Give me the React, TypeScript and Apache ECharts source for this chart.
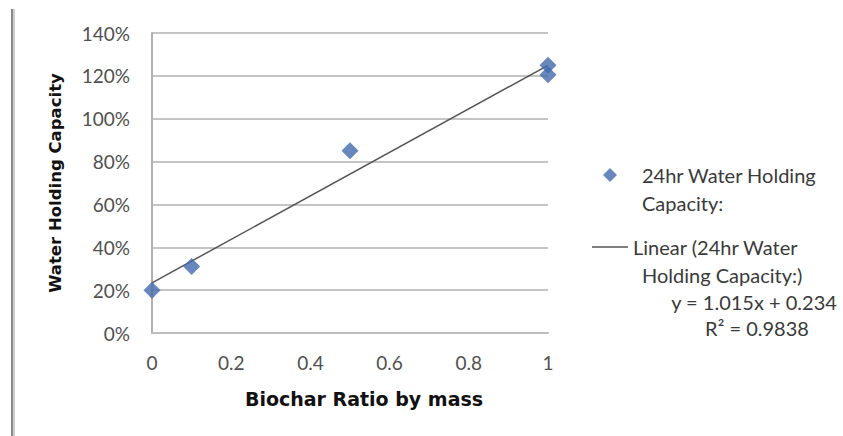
import React, { useEffect, useRef } from "react";
import * as echarts from "echarts";

// Data
const biocharRatio = [0, 0.1, 0.5, 1, 1];
const waterHolding = [0.2, 0.31, 0.85, 1.25, 1.205];
const trendX = [0, 1];
const trendY = [0.234, 1.249];

const seriesName = "24hr Water Holding Capacity:";
const trendName = "Linear (24hr Water Holding Capacity:)";
const equationText = "y = 1.015x + 0.234";
const rSquaredText = "R² = 0.9838";
const xTitle = "Biochar Ratio by mass";
const yTitle = "Water Holding Capacity";

const labelFont = "Lato, 'Open Sans', sans-serif";
const titleFont = "'DejaVu Sans', 'Liberation Sans', sans-serif";

export default function App() {
  const ref = useRef<HTMLDivElement>(null);
  useEffect(() => {
    if (!ref.current) return;
    const chart = echarts.init(ref.current, undefined, { renderer: "svg" });
    const scatterData = biocharRatio.map((x, i) => [x, waterHolding[i]]);
    const trendData = trendX.map((x, i) => [x, trendY[i]]);
    chart.setOption({
      animation: false,
      backgroundColor: "#ffffff",
      grid: { left: 152, top: 33, width: 396, height: 300, containLabel: false },
      xAxis: {
        type: "value",
        min: 0,
        max: 1,
        interval: 0.2,
        name: xTitle,
        nameLocation: "middle",
        nameGap: 56,
        nameTextStyle: {
          fontFamily: titleFont,
          fontWeight: "bold",
          fontSize: 19,
          color: "#111111",
          padding: [0, 0, 0, 28],
        },
        axisLine: { show: true, lineStyle: { color: "#bdbdbd", width: 2 } },
        axisTick: { show: false },
        splitLine: { show: false },
        axisLabel: {
          margin: 20,
          fontFamily: labelFont,
          fontSize: 19,
          color: "#505050",
          formatter: (v: number) => String(v),
        },
      },
      yAxis: {
        type: "value",
        min: 0,
        max: 1.4,
        interval: 0.2,
        name: yTitle,
        nameLocation: "middle",
        nameGap: 88,
        nameTextStyle: {
          fontFamily: titleFont,
          fontWeight: "bold",
          fontSize: 16.5,
          color: "#111111",
        },
        axisLine: { show: true, lineStyle: { color: "#b0b0b0", width: 2 } },
        axisTick: { show: false },
        splitLine: { show: true, lineStyle: { color: "#c4c4c4", width: 2 } },
        axisLabel: {
          margin: 22,
          fontFamily: labelFont,
          fontSize: 19,
          color: "#505050",
          formatter: (v: number) => Math.round(v * 100) + "%",
        },
      },
      legend: {
        orient: "vertical",
        left: 592,
        top: 161,
        padding: 0,
        itemWidth: 36,
        itemHeight: 14,
        itemGap: 44,
        selectedMode: false,
        symbolKeepAspect: true,
        textStyle: {
          fontFamily: labelFont,
          fontSize: 20,
          lineHeight: 28,
          color: "#3a3a3a",
        },
        formatter: (name: string) =>
          name === seriesName ? "24hr Water Holding" : "Linear (24hr Water",
        data: [
          {
            name: seriesName,
            icon: "path://M7,0 L14,7 L7,14 L0,7 Z",
            textStyle: { padding: [0, 0, 0, 9] },
          },
          {
            name: trendName,
            icon: "path://M0,0 L36,0 L36,1.5 L0,1.5 Z",
            itemStyle: { color: "#555555" },
          },
        ],
      },
      graphic: [
        { type: "rect", left: 11, top: 9, shape: { width: 2, height: 427 }, style: { fill: "#8a8a8a" }, silent: true },
        { type: "rect", left: 13, top: 9, shape: { width: 2, height: 427 }, style: { fill: "#cfcfcf" }, silent: true },
        {
          type: "text",
          x: 642,
          y: 203,
          style: { text: "Capacity:", font: `20px ${labelFont}`, fill: "#3a3a3a", align: "left", verticalAlign: "middle" },
        },
        {
          type: "text",
          x: 642,
          y: 275,
          style: { text: "Holding Capacity:)", font: `20px ${labelFont}`, fill: "#3a3a3a", align: "left", verticalAlign: "middle" },
        },
        {
          type: "text",
          x: 754,
          y: 302,
          style: { text: equationText, font: `20px ${labelFont}`, fill: "#3a3a3a", align: "center", verticalAlign: "middle" },
        },
        {
          type: "text",
          x: 757,
          y: 328,
          style: { text: rSquaredText, font: `20px ${labelFont}`, fill: "#3a3a3a", align: "center", verticalAlign: "middle" },
        },
      ],
      series: [
        {
          name: trendName,
          type: "line",
          data: trendData,
          showSymbol: false,
          symbol: "none",
          z: 2,
          lineStyle: { color: "#555555", width: 1.5 },
          itemStyle: { color: "#555555" },
        },
        {
          name: seriesName,
          type: "scatter",
          data: scatterData,
          symbol: "diamond",
          symbolSize: 17,
          z: 3,
          itemStyle: { color: "#4169ad" },
        },
      ],
    });
    return () => chart.dispose();
  }, []);
  return (
    <div
      ref={ref}
      style={{ position: "absolute", left: 0, top: 0, width: 843, height: 436 }}
    />
  );
}
